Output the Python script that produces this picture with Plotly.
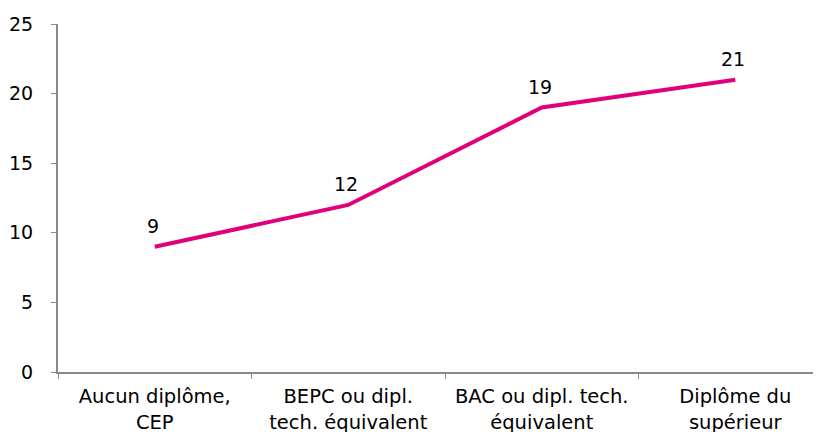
import plotly.graph_objects as go

categories = ["Aucun diplôme,<br>CEP", "BEPC ou dipl.<br>tech. équivalent",
              "BAC ou dipl. tech.<br>équivalent", "Diplôme du<br>supérieur"]
values = [9, 12, 19, 21]
y_ticks = [0, 5, 10, 15, 20, 25]

FONT = "Verdana, DejaVu Sans, sans-serif"
LINE_COLOR = "#E2007A"
AXIS_COLOR = "#898989"

fig = go.Figure()
fig.add_trace(go.Scatter(
    x=categories, y=values, mode="lines",
    line=dict(color=LINE_COLOR, width=4),
    hoverinfo="skip", showlegend=False,
))
for c, v in zip(categories, values):
    fig.add_annotation(x=c, y=v, text=str(v), showarrow=False,
                       yanchor="middle", yshift=21, xshift=-2,
                       font=dict(family=FONT, size=19, color="#000"))

fig.update_layout(
    width=821, height=432,
    margin=dict(l=50, r=8, t=16, b=68),
    paper_bgcolor="white", plot_bgcolor="white",
    font=dict(family=FONT, size=19, color="#000"),
)
fig.update_xaxes(
    type="category", range=[-0.5, 3.443], tickson="boundaries",
    showline=True, linecolor=AXIS_COLOR, linewidth=2,
    ticks="outside", ticklen=5, tickcolor=AXIS_COLOR, tickwidth=1,
    showgrid=False, zeroline=False, automargin=False,
    ticklabelstandoff=6, tickfont=dict(family=FONT, size=19.5),
)
fig.update_yaxes(
    range=[0, 25], tickvals=y_ticks, showline=True, linecolor=AXIS_COLOR,
    linewidth=2, ticks="outside", ticklen=5, tickcolor=AXIS_COLOR,
    tickwidth=1, showgrid=False, zeroline=False, automargin=False,
    ticklabelstandoff=14, tickfont=dict(family=FONT, size=19),
)

fig.write_html("out.html")
